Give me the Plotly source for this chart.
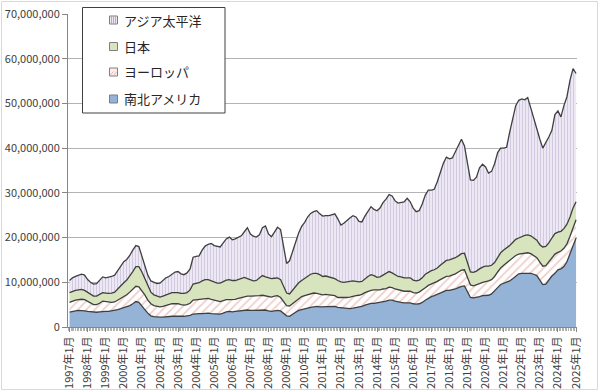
import pandas as pd
import plotly.graph_objects as go

# Values, in millions (every second month, Jan 1997 - Jan 2025)
SCALE = 1_000_000

americas = [
    3.3, 3.5, 3.6, 3.7, 3.7, 3.6,
    3.5, 3.4, 3.3, 3.3, 3.4, 3.5,
    3.5, 3.5, 3.6, 3.7, 3.9, 4.1,
    4.3, 4.5, 4.8, 5.2, 5.7, 5.5,
    4.8, 3.9, 3.1, 2.5, 2.3, 2.2,
    2.2, 2.2, 2.3, 2.3, 2.4, 2.4,
    2.4, 2.3, 2.4, 2.5, 2.6, 2.9,
    3.0, 3.0, 3.0, 3.1, 3.1, 3.0,
    3.0, 2.9, 2.9, 3.1, 3.4, 3.5,
    3.4, 3.5, 3.6, 3.7, 3.8, 3.8,
    3.7, 3.7, 3.7, 3.7, 3.8, 3.8,
    3.6, 3.5, 3.6, 3.7, 3.6, 3.1,
    2.5, 2.4, 2.9, 3.3, 3.7, 3.9,
    4.0, 4.2, 4.4, 4.5, 4.6, 4.5,
    4.5, 4.5, 4.5, 4.5, 4.6, 4.4,
    4.3, 4.2, 4.2, 4.1, 4.2, 4.3,
    4.4, 4.6, 4.9, 5.1, 5.3, 5.3,
    5.4, 5.5, 5.7, 5.8, 6.0, 6.0,
    5.8, 5.6, 5.5, 5.4, 5.4, 5.4,
    5.2, 5.1, 5.2, 5.5, 6.0, 6.5,
    6.8, 7.0, 7.3, 7.6, 7.9, 8.2,
    8.2, 8.3, 8.5, 8.8, 9.1, 9.2,
    8.0, 6.6, 6.5, 6.6, 6.8, 7.0,
    7.0, 7.1, 7.4, 8.0, 8.8, 9.5,
    9.8, 10.0, 10.3, 10.8, 11.4, 11.9,
    12.0, 12.0, 12.1, 12.0, 11.8, 11.5,
    10.5, 9.5, 9.6, 10.5, 11.4, 12.0,
    12.8, 13.0, 13.5, 14.6, 16.4, 18.3,
    19.9,
]

europe = [
    2.2, 2.3, 2.4, 2.4, 2.5, 2.5,
    2.2, 1.9, 1.7, 1.7, 1.9, 2.3,
    2.2, 2.0, 1.9, 1.9, 2.1, 2.4,
    2.5, 2.7, 3.0, 3.2, 3.4, 3.5,
    3.4, 3.3, 2.9, 2.7, 2.5, 2.4,
    2.3, 2.4, 2.5, 2.7, 2.8, 2.8,
    2.8, 2.7, 2.5, 2.5, 2.7, 3.1,
    3.1, 3.2, 3.3, 3.3, 3.3, 3.2,
    3.0, 2.9, 2.8, 2.8, 2.7, 2.6,
    2.7, 2.7, 2.8, 2.9, 3.0, 3.1,
    3.2, 3.2, 3.2, 3.3, 3.3, 3.2,
    3.2, 3.2, 3.3, 3.3, 3.0, 2.7,
    2.3, 2.3, 2.3, 2.4, 2.6, 2.9,
    3.0, 3.0, 3.0, 3.1, 2.9, 2.8,
    2.7, 2.8, 2.7, 2.6, 2.4, 2.2,
    2.3, 2.3, 2.4, 2.6, 2.7, 2.7,
    2.7, 2.7, 2.8, 2.9, 2.9, 3.0,
    2.9, 2.8, 2.8, 2.8, 2.9, 2.8,
    2.7, 2.7, 2.7, 2.6, 2.6, 2.6,
    2.5, 2.5, 2.6, 2.7, 2.8, 2.8,
    2.8, 2.8, 2.9, 3.0, 3.1, 3.1,
    3.2, 3.3, 3.4, 3.5, 3.6, 3.6,
    3.1, 2.8, 2.7, 2.8, 2.9, 3.0,
    3.1, 3.2, 3.2, 3.3, 3.5, 3.7,
    4.0, 4.3, 4.5, 4.6, 4.6, 4.4,
    4.4, 4.5, 4.5, 4.4, 4.2, 4.0,
    4.0, 4.1, 4.1, 4.0, 4.0, 4.3,
    3.9, 4.0, 4.1, 4.0, 3.9, 4.1,
    4.1,
]

japan = [
    2.2, 2.2, 2.2, 2.2, 2.2, 2.1,
    2.0, 1.9, 1.9, 1.9, 2.0, 1.9,
    1.9, 2.0, 2.1, 2.2, 2.5, 2.8,
    3.1, 3.3, 3.6, 4.0, 4.4, 4.5,
    4.1, 3.6, 3.0, 2.6, 2.4, 2.3,
    2.2, 2.3, 2.4, 2.5, 2.5, 2.5,
    2.5, 2.5, 2.6, 2.7, 3.0, 3.6,
    3.6, 3.7, 4.0, 4.2, 4.2, 4.1,
    4.0, 4.0, 4.1, 4.2, 4.4, 4.5,
    4.3, 4.2, 4.2, 4.3, 4.3, 3.9,
    3.6, 3.4, 3.5, 3.9, 4.4, 4.2,
    4.2, 4.1, 4.0, 4.0, 4.0, 3.4,
    2.8, 2.7, 3.0, 3.3, 3.6, 3.6,
    3.9, 4.2, 4.4, 4.4, 4.5, 4.4,
    4.1, 4.1, 4.0, 3.9, 3.8, 3.8,
    3.5, 3.5, 3.5, 3.5, 3.4, 3.2,
    3.0, 2.9, 3.1, 3.3, 3.5, 3.2,
    2.8, 2.9, 3.1, 3.4, 3.5, 3.3,
    3.1, 3.0, 3.0, 3.0, 3.0, 3.0,
    2.8, 2.7, 2.7, 2.8, 3.0, 3.0,
    3.0, 3.0, 3.0, 3.2, 3.4, 3.6,
    3.6, 3.6, 3.6, 3.6, 3.7, 3.7,
    3.1, 2.9, 3.0, 3.1, 3.3, 3.4,
    3.5, 3.3, 3.2, 3.1, 3.2, 3.4,
    3.4, 3.3, 3.4, 3.5, 3.6, 3.6,
    3.8, 4.0, 4.0, 4.0, 3.9, 3.9,
    3.9, 4.3, 4.3, 4.3, 4.5, 4.6,
    4.5, 4.4, 4.4, 4.4, 4.3, 4.2,
    4.0,
]

asia_pacific = [
    2.7, 3.0, 3.1, 3.2, 3.4, 3.4,
    2.9, 2.8, 2.7, 2.8, 3.1, 3.5,
    3.4, 3.6, 3.7, 3.8, 4.1, 4.5,
    4.7, 4.6, 4.6, 4.8, 4.7, 4.5,
    3.7, 2.8, 2.6, 2.5, 2.8, 2.8,
    3.1, 3.5, 3.8, 3.8, 4.1, 4.6,
    4.7, 4.4, 4.2, 4.4, 4.7, 6.0,
    6.1, 6.0, 6.9, 7.5, 7.9, 8.4,
    8.2, 8.2, 8.1, 8.7, 9.2, 9.5,
    9.1, 9.3, 9.4, 9.5, 10.2, 11.4,
    10.3, 10.0, 9.7, 9.7, 10.7, 11.4,
    9.8, 9.4, 10.3, 11.3, 11.2, 8.3,
    6.6, 7.4, 8.8, 10.0, 11.1, 12.1,
    12.5, 13.2, 13.6, 13.8, 14.0, 13.6,
    13.5, 13.5, 13.7, 14.1, 14.5, 13.8,
    12.7, 13.2, 13.8, 14.2, 14.6, 14.4,
    13.5, 13.3, 14.0, 14.7, 15.2, 14.8,
    14.9, 15.4, 16.2, 16.6, 17.2, 17.2,
    16.6, 16.4, 16.6, 17.0, 17.8, 17.0,
    16.1, 15.5, 15.5, 16.5, 17.7, 18.3,
    18.0, 18.0, 19.3, 20.7, 22.2, 23.1,
    22.6, 22.6, 23.7, 24.6, 25.6, 24.0,
    22.3, 20.6, 20.6, 21.0, 22.6, 23.0,
    22.2, 20.8, 21.0, 22.1, 23.5, 23.4,
    22.8, 22.6, 25.3, 27.4, 29.9, 30.8,
    30.8, 30.3, 30.7, 28.6, 26.6, 25.1,
    23.6, 22.1, 23.1, 23.7, 24.1, 26.6,
    27.1, 25.6, 27.5, 28.5, 30.6, 31.2,
    28.7,
]

tick_dates = [f"{y}-01-01" for y in range(1997, 2026)]
tick_labels = [
    "1997年1月", "1998年1月", "1999年1月", "2000年1月", "2001年1月", "2002年1月",
    "2003年1月", "2004年1月", "2005年1月", "2006年1月", "2007年1月", "2008年1月",
    "2009年1月", "2010年1月", "2011年1月", "2012年1月", "2013年1月", "2014年1月",
    "2015年1月", "2016年1月", "2017年1月", "2018年1月", "2019年1月", "2020年1月",
    "2021年1月", "2022年1月", "2023年1月", "2024年1月", "2025年1月",
]

# legend (top to bottom)
legend_names = ["アジア太平洋", "日本", "ヨーロッパ", "南北アメリカ"]

dates = pd.date_range("1997-01-01", "2025-01-01", freq="2MS")
for s in (americas, europe, japan, asia_pacific):
    assert len(s) == len(dates), (len(s), len(dates))

W, H = 600, 392
ML, MR, MT, MB = 68, 23, 14, 65
PW, PH = W - ML - MR, H - MT - MB


def px_x(p):
    return (p - ML) / PW


def px_y(p):
    return (H - MB - p) / PH


FONT = "Noto Sans CJK JP, Noto Sans, sans-serif"
LINE = dict(color="#3f3f3f", width=1.3)

C_AM = "#95b3d7"
C_JP = "#d7e4bd"
series = [
    ("南北アメリカ", americas, dict(fillcolor=C_AM)),
    ("ヨーロッパ", europe, dict(fillpattern=dict(shape="/", fgcolor="#df9c93", bgcolor="#ffffff", size=6, solidity=0.28))),
    ("日本", japan, dict(fillcolor=C_JP)),
    ("アジア太平洋", asia_pacific, dict(fillpattern=dict(shape="|", fgcolor="#b8a9cf", bgcolor="#efebf5", size=3, solidity=0.4))),
]

fig = go.Figure()
for name, vals, style in series:
    fig.add_trace(go.Scatter(
        x=dates, y=[v * SCALE for v in vals], name=name, mode="lines",
        stackgroup="one", line=LINE, showlegend=False, hoverinfo="skip", **style,
    ))

# outer chart border
shapes = [dict(
    type="rect", xref="paper", yref="paper",
    x0=px_x(1.5), x1=px_x(597.5), y0=px_y(389.5), y1=px_y(1.5),
    line=dict(color="#d9d9d9", width=1), fillcolor="rgba(0,0,0,0)", layer="below",
)]
# custom legend box
shapes.append(dict(
    type="rect", xref="paper", yref="paper",
    x0=px_x(82.5), x1=px_x(225), y0=px_y(113), y1=px_y(7.5),
    line=dict(color="#404040", width=1), fillcolor="white", layer="above",
))
annotations = []
legend_y = [20, 46.5, 72, 99]
swatch_fill = ["#ece8f2", C_JP, "#fbeeec", C_AM]
for name, yc, fc in zip(legend_names, legend_y, swatch_fill):
    shapes.append(dict(
        type="rect", xref="paper", yref="paper",
        x0=px_x(109.5), x1=px_x(117.5), y0=px_y(yc + 4), y1=px_y(yc - 4),
        line=dict(color="#7f7f7f", width=1), fillcolor=fc, layer="above",
    ))
    annotations.append(dict(
        text=name, xref="paper", yref="paper", x=px_x(122), y=px_y(yc),
        xanchor="left", yanchor="middle", showarrow=False,
        font=dict(family=FONT, size=13, color="#262626"),
    ))
# pattern hints inside the two hatched swatches
for xx in (111.5, 113.5, 115.5):
    shapes.append(dict(type="line", xref="paper", yref="paper",
                       x0=px_x(xx), x1=px_x(xx), y0=px_y(legend_y[0] + 3.5), y1=px_y(legend_y[0] - 3.5),
                       line=dict(color="#a898c0", width=0.8), layer="above"))
for d in (0, 3.5):
    shapes.append(dict(type="line", xref="paper", yref="paper",
                       x0=px_x(110 + d), x1=px_x(113.5 + d), y0=px_y(legend_y[2] + 3.5), y1=px_y(legend_y[2] - 0.5),
                       line=dict(color="#e0a8a0", width=0.8), layer="above"))

fig.update_layout(
    width=W, height=H,
    margin=dict(l=ML, r=MR, t=MT, b=MB, autoexpand=False),
    paper_bgcolor="white", plot_bgcolor="white",
    font=dict(family=FONT, size=11, color="#404040"),
    showlegend=False,
    xaxis=dict(
        type="date", range=["1996-12-01", "2025-01-20"], automargin=False,
        tickmode="array", tickvals=tick_dates, ticktext=tick_labels,
        tickangle=-90, tickfont=dict(size=11, color="#404040"),
        showgrid=False, showline=True, linecolor="#868686", linewidth=1,
        ticks="outside", ticklen=4, tickcolor="#868686",
        minor=dict(ticks="outside", dtick="M1", ticklen=3, tickcolor="#b0b0b0"),
        zeroline=False,
    ),
    yaxis=dict(
        range=[0, 70_000_000], dtick=10_000_000, tickformat=",d", automargin=False,
        tickfont=dict(size=11, color="#404040"),
        showgrid=True, gridcolor="#b4b4b4", gridwidth=1,
        showline=True, linecolor="#868686", linewidth=1,
        ticks="outside", ticklen=5, tickcolor="#868686",
        zeroline=False,
    ),
    shapes=shapes,
    annotations=annotations,
)

fig.write_html(
    "out.html",
    config={"displayModeBar": False, "staticPlot": True},
    post_script="document.body.style.margin='0';document.body.style.overflow='hidden';",
)
